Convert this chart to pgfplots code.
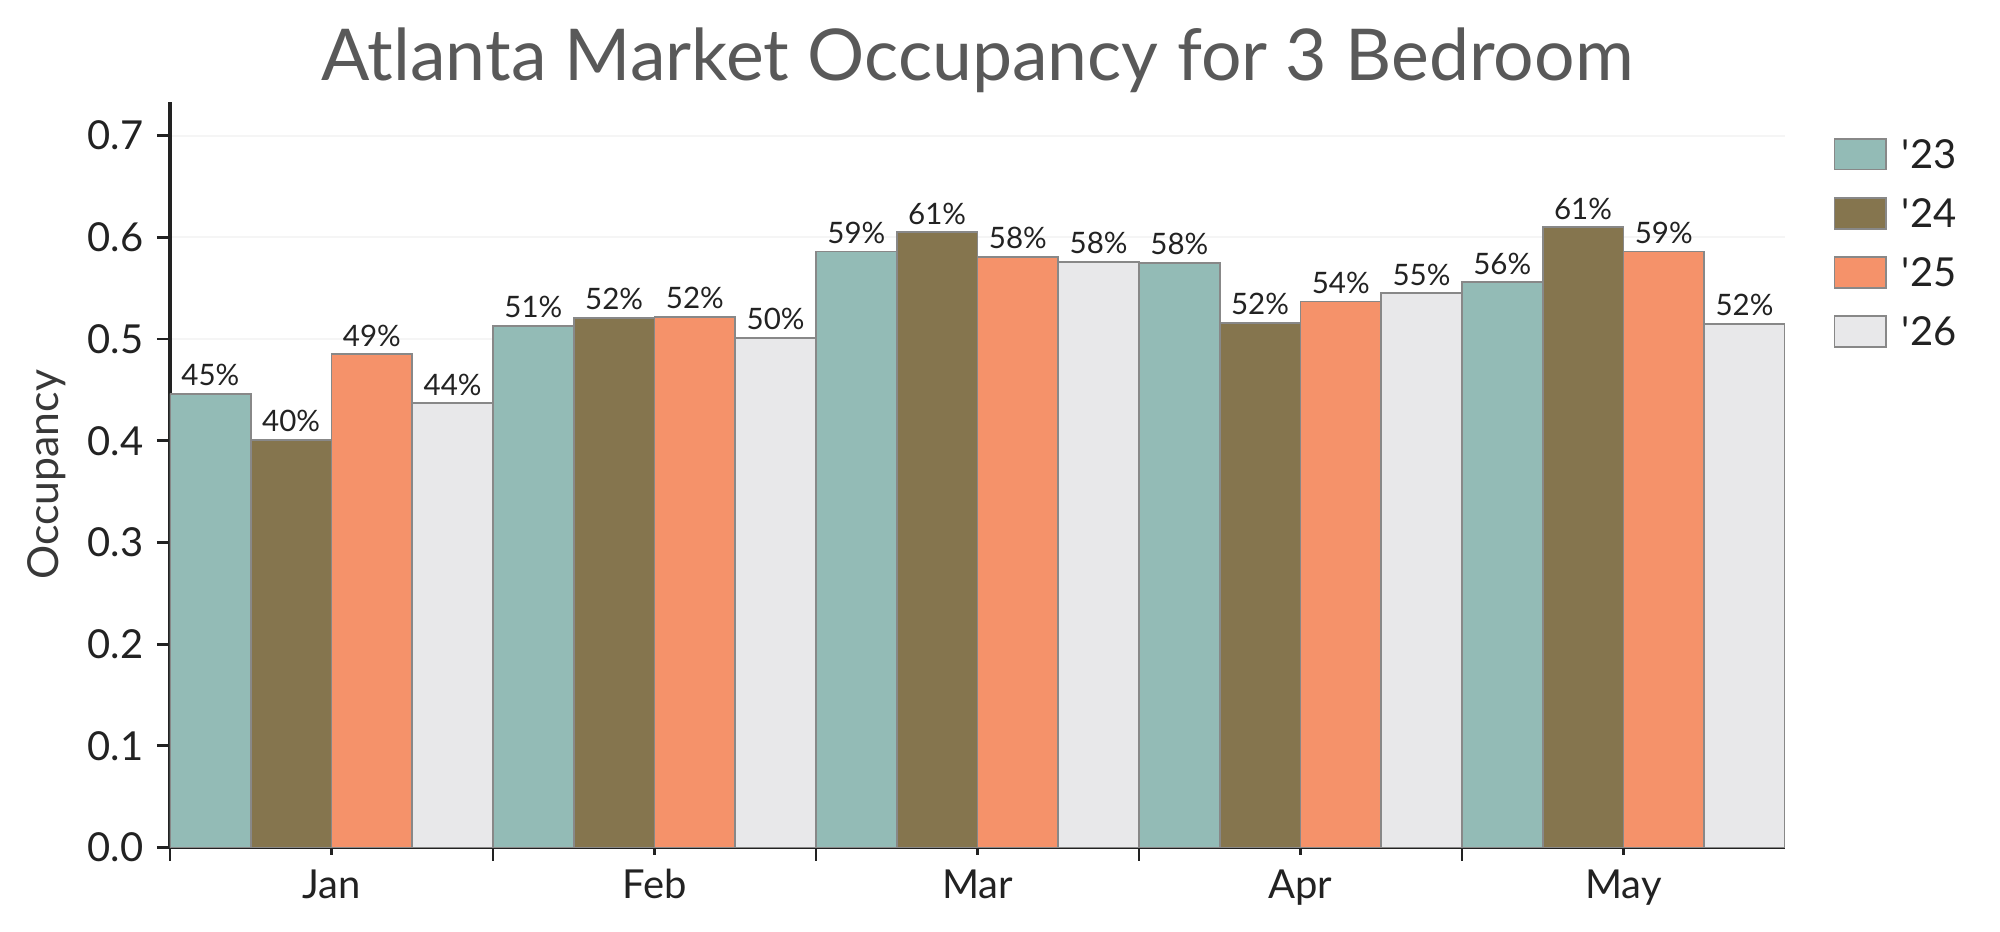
\documentclass[border=0pt]{standalone}
\usepackage{fontspec}
\setmainfont{Lato}
\usepackage{pgfplots}
\usepackage{pgfplotstable}
\pgfplotsset{compat=1.18}

\definecolor{c23}{HTML}{93BBB6}
\definecolor{c24}{HTML}{85754E}
\definecolor{c25}{HTML}{F5926A}
\definecolor{c26}{HTML}{E8E8EA}
\definecolor{edge}{HTML}{888888}
\definecolor{ink}{HTML}{222222}
\definecolor{titlegray}{HTML}{595959}

% month index, occupancy per year, rounded label per year
\pgfplotstableread{
x  a      la  b      lb  c      lc  d      ld
0  0.446  45  0.401  40  0.485  49  0.437  44
1  0.513  51  0.521  52  0.522  52  0.501  50
2  0.586  59  0.605  61  0.581  58  0.576  58
3  0.575  58  0.516  52  0.537  54  0.545  55
4  0.556  56  0.610  61  0.586  59  0.515  52
}\occ

\begin{document}
\begin{tikzpicture}
\begin{axis}[
    scale only axis,
    width=465.1pt, height=214.8pt,
    xmin=-0.5, xmax=4.5,
    ymin=0, ymax=0.7333,
    axis x line*=bottom, axis y line*=left,
    axis line style={ink, line width=0.9pt},
    ybar, bar width=0.25,
    xtick={-0.5,0.5,1.5,2.5,3.5},
    xticklabels={},
    extra x ticks={0,1,2,3,4},
    extra x tick labels={Jan,Feb,Mar,Apr,May},
    extra x tick style={major tick length=2pt, grid=none},
    ytick={0,0.1,...,0.7},
    yticklabel style={/pgf/number format/.cd, fixed, fixed zerofill, precision=1},
    tick align=outside,
    major tick length=3.8pt,
    tick style={ink, line width=0.8pt},
    ymajorgrids=true,
    y grid style={line width=0.6pt, draw=gray!8},
    /pgf/number format/assume math mode=true,
    tick label style={font=\fontsize{11.5}{13}\selectfont, color=ink},
    yticklabel shift=0.3pt,
    xticklabel shift=0.8pt,
    ylabel={Occupancy},
    ylabel style={at={(axis description cs:-0.0761,0.5)}, anchor=center, rotate=0,
        font=\fontsize{12.3}{14}\selectfont, color=ink!90},
    title={Atlanta Market Occupancy for 3 Bedroom},
    title style={at={(axis description cs:0.5,1)}, anchor=base, yshift=0.2pt,
        font=\fontsize{20.6}{24}\selectfont, color=titlegray},
    every axis plot/.append style={draw=edge, line width=0.5pt},
    point meta=explicit,
    nodes near coords={\pgfmathprintnumber[fixed,precision=0]{\pgfplotspointmeta}\%},
    nodes near coords style={anchor=south, inner sep=0pt, yshift=2pt,
        font=\fontsize{8.5}{10}\selectfont, color=ink},
    legend image code/.code={\draw[#1] (0pt,-4.4pt) rectangle (14.8pt,4.4pt);},
    legend style={draw=none, fill=none, inner sep=0pt, outer sep=0pt,
        at={(axis description cs:1,1)}, anchor=north west,
        xshift=14pt, yshift=-10.5pt,
        row sep=7.7pt,
        nodes={inner sep=0pt, text height=8.5pt, text depth=0.3pt},
        /tikz/every odd column/.append style={column sep=4.4pt},
        font=\fontsize{11.5}{13}\selectfont, text=ink},
    legend cell align=left,
]
\addplot[fill=c23, bar shift=-0.375] table[x=x, y=a, meta=la]{\occ};
\addplot[fill=c24, bar shift=-0.125] table[x=x, y=b, meta=lb]{\occ};
\addplot[fill=c25, bar shift=0.125] table[x=x, y=c, meta=lc]{\occ};
\addplot[fill=c26, bar shift=0.375] table[x=x, y=d, meta=ld]{\occ};
\legend{\textquotesingle 23,\textquotesingle 24,\textquotesingle 25,\textquotesingle 26}
\coordinate (o) at (axis cs:-0.5,0);
\end{axis}
\pgfresetboundingbox
\path[use as bounding box] (o) ++(-48.96pt,-24.3pt) rectangle ++(576pt,268.4pt);
\end{tikzpicture}
\end{document}
